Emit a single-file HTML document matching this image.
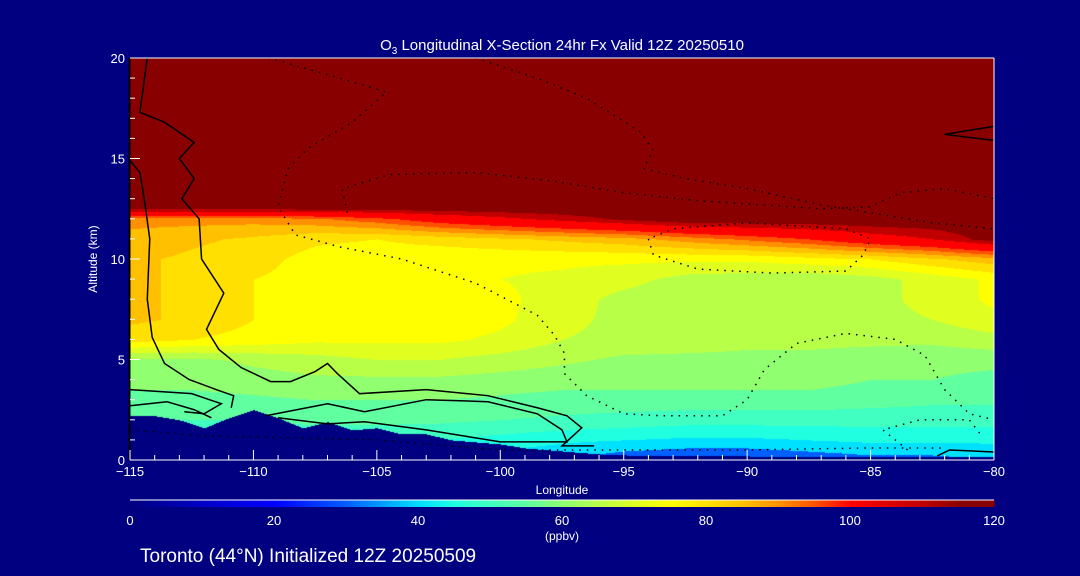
<!DOCTYPE html>
<html><head><meta charset="utf-8"><style>
html,body{margin:0;padding:0;background:#000080;width:1080px;height:576px;overflow:hidden;font-family:"Liberation Sans",sans-serif;color:#fff}
svg{display:block}
svg text{fill:#fff;font-family:"Liberation Sans",sans-serif}
</style></head><body>
<svg id="chart" width="1080" height="576" xmlns="http://www.w3.org/2000/svg">
<rect width="1080" height="576" fill="#000080"/>
<foreignObject x="130" y="58" width="864" height="402"><canvas xmlns="http://www.w3.org/1999/xhtml" id="cv" width="864" height="402" style="display:block"></canvas></foreignObject>
<g id="contours"></g>
<g id="axes"></g>
<text x="562" y="50" text-anchor="middle" font-size="15">O<tspan font-size="10" dy="4">3</tspan><tspan dy="-4"> Longitudinal X-Section 24hr  Fx Valid 12Z 20250510</tspan></text>
<text x="97" y="259" text-anchor="middle" font-size="12" transform="rotate(-90 97 259)">Altitude (km)</text>
<text x="562" y="494" text-anchor="middle" font-size="12">Longitude</text>
<text x="562" y="540" text-anchor="middle" font-size="12">(ppbv)</text>
<text x="140" y="562" font-size="19">Toronto (44°N) Initialized 12Z 20250509</text>
</svg>
<script>
const lons=[-115,-112.5,-110,-107.5,-105,-102.5,-100,-97.5,-95,-92.5,-90,-87.5,-85,-82.5,-80];
const alts=[0,1,2,3,4,5,6,7,8,9,10,11,12,12.6,20];
const o3=[
[50,50,50,50,48,45,42,40,36,34,34,36,38,38,40],
[52,52,52,52,52,50,48,46,45,44,44,45,46,46,46],
[55,55,55,56,56,56,55,54,53,52,52,52,52,52,52],
[58,58,59,60,60,60,59,58,58,58,58,58,57,56,56],
[62,62,63,64,64,64,63,62,62,62,62,62,60,60,58],
[64,64,66,68,70,70,68,66,64,64,64,64,63,62,62],
[82,80,78,76,76,76,74,70,68,67,66,66,66,66,68],
[86,84,80,80,80,78,76,72,68,66,66,66,68,70,74],
[86,84,80,78,80,78,76,73,68,66,66,66,68,72,76],
[86,84,80,78,76,76,75,74,72,68,67,66,68,72,76],
[86,84,82,78,77,76,76,76,76,76,76,78,80,84,88],
[88,86,84,81,80,82,84,86,88,92,96,100,106,110,118],
[92,92,92,94,98,104,108,112,116,120,120,120,120,120,120],
[120,120,120,120,120,120,120,120,120,120,120,120,120,120,120],
[120,120,120,120,120,120,120,120,120,120,120,120,120,120,120]];
const terrainLon=[-115,-114,-113,-112,-111,-110,-109,-108,-107,-106,-105,-104,-103,-102,-101,-100,-99,-98,-97,-96,-95,-90,-85,-80];
const terrainAlt=[2.2,2.2,2.0,1.6,2.1,2.5,2.1,1.6,1.9,1.5,1.6,1.3,1.3,1.0,0.9,0.8,0.6,0.5,0.4,0.3,0.25,0.2,0.15,0.15];
const xTicks=[-115,-110,-105,-100,-95,-90,-85,-80];
const yTicks=[0,5,10,15,20];
const cbTicks=[0,20,40,60,80,100,120];
const solidLines=[
[[-114.3,20],[-114.6,17.3],[-113.6,16.8],[-112.4,15.8],[-113,15],[-112.4,14],[-112.9,13],[-112.2,12],[-112.1,10],[-111.2,8.3],[-111.9,6.5],[-111.4,5.5],[-110.5,4.6],[-109.3,3.9],[-108.5,3.9],[-107.5,4.4],[-107,4.8],[-106.6,4.3],[-105.7,3.3],[-103,3.5],[-100.5,3.2],[-98.5,2.6],[-97.3,2.2],[-96.7,1.6],[-97.5,0.7],[-96.2,0.7]],
[[-115,14.9],[-114.6,14.3],[-114.4,12.8],[-114.2,11],[-114.3,8],[-114.1,6.1],[-113.6,4.8],[-112.6,4],[-111.5,3.5],[-110.8,3.2],[-110.9,2.6]],
[[-115,3.5],[-112.5,3.3],[-111.3,2.8],[-112,2.3],[-112.8,2.4]],
[[-115,2.7],[-113.5,2.9],[-112.4,2.5],[-111.7,2.1]],
[[-109.5,2.2],[-107,2.8],[-105.5,2.4],[-103,3.0],[-100.5,2.9],[-98.5,2.3],[-97.5,1.5],[-97.3,0.9],[-100,0.9],[-103,1.5],[-105.5,1.9],[-107,1.8],[-109,2.1]],
[[-82.3,0.2],[-81.8,0.5],[-80,0.4]],
[[-80,16.6],[-82,16.2],[-80,15.9]]];
const dottedLines=[
[[-109.4,20],[-106.5,19],[-104.6,18.3],[-106,16.8],[-107.8,15.5],[-108.6,14.5],[-109,12.6],[-108.3,11.2],[-106.5,10.6],[-104,10],[-101,8.8],[-98.5,7.2],[-97.8,6.2],[-97.4,5.3],[-97.4,4.3],[-96.5,3.2],[-95,2.3],[-93.5,2.2],[-91,2.2],[-90,3],[-89.3,4.5],[-88,5.8],[-86,6.3],[-84,6.0],[-82.8,5.2],[-82,3.5],[-81,2.3],[-80,2.0]],
[[-106.2,12.3],[-106.4,13.5],[-104.5,14.2],[-101,14.3],[-98,13.9],[-95,13.3],[-92,12.9],[-89.5,12.7],[-87,12.5],[-85,12.6],[-83.8,13.3],[-82,13.5],[-80,13]],
[[-101,20],[-98.5,19],[-96.5,18],[-94.3,16.3],[-93.8,15.4],[-94.2,14.5],[-92.5,14],[-90,13.5],[-87,12.7],[-85,12.3],[-82.5,11.8],[-80,11.5]],
[[-94,11],[-93.8,10.2],[-92,9.5],[-89,9.3],[-86,9.4],[-85.3,10.2],[-85,11],[-86,11.5],[-90,11.8],[-93,11.5],[-94,11]],
[[-115,1.5],[-112,1.2],[-105,1.0],[-100,0.5],[-95,0.5],[-90,0.5],[-85,0.6],[-82,0.6]],
[[-83.5,0.5],[-84.5,1.5],[-83,2.0],[-81,2.0],[-80.5,1.2]]];
const cw=864,ch=402,X0=130,Y0=460;
function xs(l){return X0+(l+115)/35*cw;}
function ys(a){return Y0-a*20.1;}
const stops=[[0,[0,0,128]],[10,[0,0,200]],[20,[0,0,255]],[30,[0,96,255]],[40,[0,224,255]],[45,[32,255,224]],[50,[64,255,192]],[55,[96,255,160]],[60,[144,255,112]],[65,[184,255,72]],[70,[224,255,32]],[75,[255,255,0]],[80,[255,224,0]],[85,[255,192,0]],[90,[255,144,0]],[95,[255,80,0]],[100,[255,0,0]],[110,[192,0,0]],[115,[136,0,0]],[120,[136,0,0]]];
function col(v){v=Math.max(0,Math.min(120,Math.floor(v/5)*5));for(let i=stops.length-1;i>=0;i--)if(v>=stops[i][0])return stops[i][1];return stops[0][1];}
function colSmooth(v){for(let i=0;i<stops.length-1;i++){const a=stops[i],b=stops[i+1];if(v<=b[0]){const f=(v-a[0])/(b[0]-a[0]);return a[1].map((c,k)=>Math.round(c+(b[1][k]-c)*f));}}return stops[stops.length-1][1];}
function idx(arr,v){let i=0;while(i<arr.length-2&&v>arr[i+1])i++;return [i,Math.max(0,Math.min(1,(v-arr[i])/(arr[i+1]-arr[i])))];}
function field(l,a){const [i,fx]=idx(lons,l),[j,fy]=idx(alts,a);const r0=o3[j],r1=o3[j+1];return (r0[i]*(1-fx)+r0[i+1]*fx)*(1-fy)+(r1[i]*(1-fx)+r1[i+1]*fx)*fy;}
function terr(l){const [i,f]=idx(terrainLon,l);return terrainAlt[i]*(1-f)+terrainAlt[i+1]*f;}
const ctx=document.getElementById('cv').getContext('2d');
const img=ctx.createImageData(cw,ch);
for(let py=0;py<ch;py++){const a=(Y0-(58+py))/20.1;for(let px=0;px<cw;px++){const l=-115+px/cw*35;let c=a<terr(l)?[0,0,128]:col(field(l,a));const k=(py*cw+px)*4;img.data[k]=c[0];img.data[k+1]=c[1];img.data[k+2]=c[2];img.data[k+3]=255;}}
ctx.putImageData(img,0,0);
const NS='http://www.w3.org/2000/svg';
function mk(t,at,parent){const e=document.createElementNS(NS,t);for(const k in at)e.setAttribute(k,at[k]);parent.appendChild(e);return e;}
const cg=document.getElementById('contours');
solidLines.forEach(ln=>{const p=mk('polyline',{points:ln.map(q=>xs(q[0])+','+ys(q[1])).join(' '),fill:'none',stroke:'#000','stroke-width':1.5},cg);

});
dottedLines.forEach(ln=>{const p=mk('polyline',{points:ln.map(q=>xs(q[0])+','+ys(q[1])).join(' '),fill:'none',stroke:'#000','stroke-width':1.5,'stroke-dasharray':'1.5 6'},cg);

});
const ag=document.getElementById('axes');
mk('line',{x1:130,y1:460,x2:994,y2:460,stroke:'#fff'},ag);
mk('line',{x1:130,y1:58,x2:994,y2:58,stroke:'#fff'},ag);
mk('line',{x1:994,y1:58,x2:994,y2:460,stroke:'#fff'},ag);
mk('line',{x1:129.5,y1:58,x2:129.5,y2:460,stroke:'#000','stroke-width':2},ag);
for(let l=-115;l<=-80;l++){mk('line',{x1:xs(l),y1:460,x2:xs(l),y2:l%5===0?450:455,stroke:'#fff'},ag);}
xTicks.forEach(l=>{const t=mk('text',{x:xs(l),y:476,'text-anchor':'middle','font-size':13},ag);t.textContent=(l<0?'\u2212':'')+Math.abs(l);

});
for(let a=0;a<=20;a++){mk('line',{x1:130,y1:ys(a),x2:a%5===0?140:135,y2:ys(a),stroke:'#fff'},ag);}
yTicks.forEach(a=>{const t=mk('text',{x:125,y:ys(a)+5,'text-anchor':'end','font-size':13},ag);t.textContent=a;

});
const cb=mk('g',{},ag);


for(let v=0;v<120;v+=0.5){mk('rect',{x:130+v/120*864,y:500,width:864/240+0.5,height:7,fill:'rgb('+colSmooth(v).join(',')+')'},cb);}
mk('line',{x1:130,y1:500,x2:994,y2:500,stroke:'#fff'},cb);
cbTicks.forEach(v=>{const t=mk('text',{x:130+v/120*864,y:525,'text-anchor':'middle','font-size':13},cb);t.textContent=v;

});
</script>
</body></html>
